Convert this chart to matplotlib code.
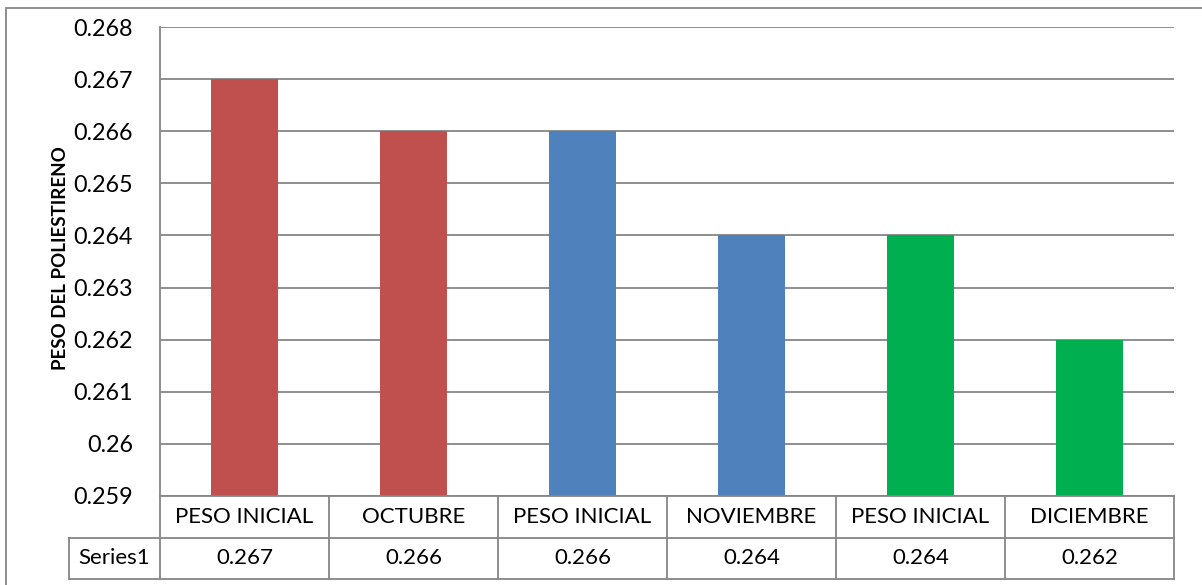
import matplotlib
matplotlib.use("Agg")
import matplotlib.pyplot as plt
from matplotlib.lines import Line2D
from matplotlib.patches import Rectangle
import matplotlib.transforms as mtransforms

categories = ["PESO INICIAL", "OCTUBRE", "PESO INICIAL", "NOVIEMBRE", "PESO INICIAL", "DICIEMBRE"]
values = [0.267, 0.266, 0.266, 0.264, 0.264, 0.262]
value_labels = ["0.267", "0.266", "0.266", "0.264", "0.264", "0.262"]
series_name = "Series1"
yticks = [0.259, 0.26, 0.261, 0.262, 0.263, 0.264, 0.265, 0.266, 0.267, 0.268]
ytick_labels = ["0.259", "0.26", "0.261", "0.262", "0.263", "0.264", "0.265", "0.266", "0.267", "0.268"]
colors = ["#C0504D", "#C0504D", "#4F81BD", "#4F81BD", "#00B050", "#00B050"]
ylabel = "PESO DEL POLIESTIRENO"

W, H = 1202, 585
plt.rcParams['font.family'] = ['Lato', 'DejaVu Sans']
fig = plt.figure(figsize=(W/100, H/100), dpi=100)

def fx(px): return px / W
def fy(py): return 1 - py / H

left, right, top, bottom = 160, 1174, 27, 496
ax = fig.add_axes([fx(left), fy(bottom), fx(right - left), (bottom - top) / H])

x = list(range(len(categories)))
ax.bar(x, values, width=0.4, color=colors, zorder=3, bottom=0)
ax.set_xlim(-0.5, len(categories) - 0.5)
ax.set_ylim(0.259, 0.268)
ax.set_yticks(yticks)
ax.set_yticklabels(ytick_labels, fontsize=16.8)
ax.tick_params(axis='y', length=0, pad=19.5)
ax.set_xticks([])
ax.grid(axis='y', color='#868686', linewidth=1.3, zorder=0)
for s in ['top', 'right', 'bottom']:
    ax.spines[s].set_visible(False)
ax.spines['left'].set_color('#868686')
ax.spines['left'].set_linewidth(1.3)

# Outer chart border
fig.add_artist(Rectangle((fx(6), fy(600)), fx(1300), (600 - 8) / H, transform=fig.transFigure,
                         fill=False, edgecolor='#868686', linewidth=1.3))

# y label
fig.text(fx(61), fy(258), ylabel, rotation=90, ha='center', va='center',
         fontsize=13.5, fontweight='bold')

# Data table
trans = mtransforms.blended_transform_factory(ax.transData, fig.transFigure)
row1_top, row_mid, row2_bot = 496, 538, 579
lc = '#868686'
lw = 1.3
fig.add_artist(Line2D([fx(left), fx(right)], [fy(row1_top)] * 2, transform=fig.transFigure, color=lc, lw=lw))
fig.add_artist(Line2D([fx(69), fx(right)], [fy(row_mid)] * 2, transform=fig.transFigure, color=lc, lw=lw))
fig.add_artist(Line2D([fx(69), fx(right)], [fy(row2_bot)] * 2, transform=fig.transFigure, color=lc, lw=lw))
fig.add_artist(Line2D([fx(69), fx(69)], [fy(row_mid), fy(row2_bot)], transform=fig.transFigure, color=lc, lw=lw))
for i in range(len(categories) + 1):
    xb = i - 0.5
    fig.add_artist(Line2D([xb, xb], [fy(row1_top), fy(row2_bot)], transform=trans, color=lc, lw=lw))
for i, (c, v) in enumerate(zip(categories, value_labels)):
    fig.text(i, fy((row1_top + row_mid) / 2), c, transform=trans, ha='center', va='center', fontsize=16)
    fig.text(i, fy((row_mid + row2_bot) / 2), v, transform=trans, ha='center', va='center', fontsize=16)
fig.text(fx(114), fy((row_mid + row2_bot) / 2), series_name, ha='center', va='center', fontsize=16)

fig.savefig("out.png", dpi=100)
